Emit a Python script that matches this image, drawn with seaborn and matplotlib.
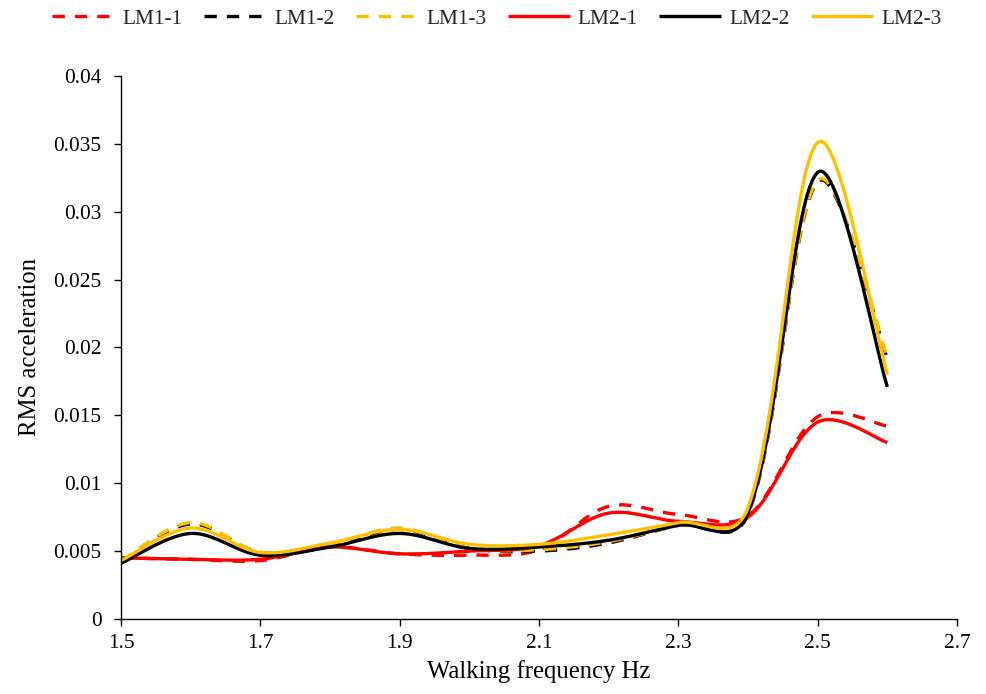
import numpy as np
import pandas as pd
import matplotlib
matplotlib.use("Agg")
import matplotlib.pyplot as plt
import seaborn as sns

freq = [1.5, 1.6, 1.7, 1.8, 1.9, 2.0, 2.1, 2.2, 2.3, 2.4, 2.5, 2.6]
lm1_1 = [0.0045, 0.0044, 0.0043, 0.0053, 0.0048, 0.0047, 0.0051, 0.0083, 0.0077, 0.0076, 0.0149, 0.0142]
lm1_2 = [0.0042, 0.0070, 0.0049, 0.0054, 0.0066, 0.0052, 0.0050, 0.0056, 0.0069, 0.0077, 0.0322, 0.0192]
lm1_3 = [0.0043, 0.0071, 0.0049, 0.0055, 0.0067, 0.0052, 0.0051, 0.0057, 0.0069, 0.0078, 0.0323, 0.0193]
lm2_1 = [0.0045, 0.0044, 0.0044, 0.0053, 0.0048, 0.0050, 0.0054, 0.0078, 0.0072, 0.0075, 0.0145, 0.0130]
lm2_2 = [0.0041, 0.0063, 0.0047, 0.0053, 0.0063, 0.0052, 0.0053, 0.0058, 0.0069, 0.0078, 0.0329, 0.0171]
lm2_3 = [0.0043, 0.0067, 0.0049, 0.0056, 0.0066, 0.0055, 0.0055, 0.0062, 0.0071, 0.0082, 0.0351, 0.0180]

series = ["LM1-1", "LM1-2", "LM1-3", "LM2-1", "LM2-2", "LM2-3"]
values = [lm1_1, lm1_2, lm1_3, lm2_1, lm2_2, lm2_3]
colors = ["#FF0000", "#000000", "#FFC000", "#FF0000", "#000000", "#FFC000"]
dashed = [True, True, True, False, False, False]

xt = [1.5, 1.7, 1.9, 2.1, 2.3, 2.5, 2.7]
yt = [0, 0.005, 0.01, 0.015, 0.02, 0.025, 0.03, 0.035, 0.04]
yt_labels = ["0", "0.005", "0.01", "0.015", "0.02", "0.025", "0.03", "0.035", "0.04"]

# approximate screen scale (px per data unit) used for the smoothing
SX, SY = 696.7, 13575.0


def smooth(x, y, n=40, a=0.5):
    """Excel-like smoothed line: cubic Bezier with chord-weighted control points."""
    pts = np.column_stack([np.asarray(x, float) * SX, np.asarray(y, float) * SY])
    m = len(pts)
    out_c = [None] * m
    in_c = [None] * m
    for i in range(m):
        if i == 0:
            out_c[i] = pts[0] + (pts[1] - pts[0]) / 6.0
            in_c[i] = pts[0]
        elif i == m - 1:
            in_c[i] = pts[i] - (pts[i] - pts[i - 1]) / 6.0
            out_c[i] = pts[i]
        else:
            t = pts[i + 1] - pts[i - 1]
            dp = np.linalg.norm(pts[i] - pts[i - 1]) ** a
            dn = np.linalg.norm(pts[i + 1] - pts[i]) ** a
            out_c[i] = pts[i] + t * dn / (dp + dn) / 3.0
            in_c[i] = pts[i] - t * dp / (dp + dn) / 3.0
    out = []
    for i in range(m - 1):
        p0, c1, c2, p3 = pts[i], out_c[i], in_c[i + 1], pts[i + 1]
        tt = np.linspace(0, 1, n, endpoint=(i == m - 2))[:, None]
        b = ((1 - tt) ** 3) * p0 + 3 * ((1 - tt) ** 2) * tt * c1 + 3 * (1 - tt) * tt ** 2 * c2 + tt ** 3 * p3
        out.append(b)
    out = np.vstack(out)
    return out[:, 0] / SX, out[:, 1] / SY


sns.set_theme(style="white")
plt.rcParams["font.family"] = ["Liberation Serif", "DejaVu Serif"]

fig = plt.figure(figsize=(9.86, 6.94), dpi=100)
ax = fig.add_axes([0.1227, 0.1081, 0.8479, 0.7824])

for name, vals, col, d in zip(series, values, colors, dashed):
    sx, sy = smooth(freq, vals)
    df = pd.DataFrame({"x": sx, "y": sy})
    sns.lineplot(data=df, x="x", y="y", sort=False, estimator=None,
                 color=col, lw=2.4, ax=ax, label=name)
    l = ax.get_lines()[-1]
    if d:
        l.set_dashes([3.7, 3.0])
    l.set_dash_capstyle("butt")
    l.set_solid_capstyle("butt")

ax.set_xlim(1.5, 2.7)
ax.set_ylim(0, 0.04)
ax.set_xticks(xt)
ax.set_xticklabels([f"{v:.1f}" for v in xt])
ax.set_yticks(yt)
ax.set_yticklabels(yt_labels)
ax.tick_params(axis="both", labelsize=15.4, colors="black", direction="out",
               length=5, width=1, bottom=True, left=True)
ax.tick_params(axis="y", pad=9)
ax.tick_params(axis="x", pad=6)
for s in ["top", "right"]:
    ax.spines[s].set_visible(False)
for s in ["left", "bottom"]:
    ax.spines[s].set_color("black")
    ax.spines[s].set_linewidth(1.0)
ax.set_xlabel("Walking frequency Hz", fontsize=17.8, color="black", labelpad=5)
ax.set_ylabel("RMS acceleration", fontsize=17.8, color="black", labelpad=9)

handles, labels = ax.get_legend_handles_labels()
ax.get_legend().remove()
fig.legend(handles, labels, loc="center", bbox_to_anchor=(497 / 986, 1 - 19 / 694), ncol=6,
           frameon=False, fontsize=15.4, handlelength=2.9, columnspacing=1.0,
           handletextpad=0.38, borderpad=0, borderaxespad=0)

fig.savefig("out.png", dpi=100)
